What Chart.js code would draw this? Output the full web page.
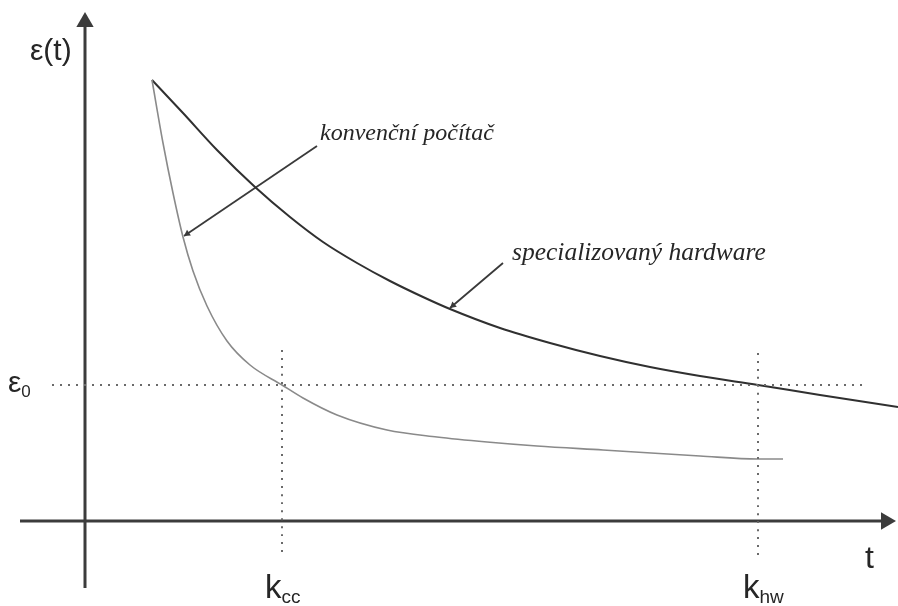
<!DOCTYPE html>
<html>
<head>
<meta charset="utf-8">
<script src="https://cdn.jsdelivr.net/npm/chart.js@4/dist/chart.umd.min.js"></script>
<style>
  html, body { margin: 0; padding: 0; background: #fff; }
  #wrap { width: 898px; height: 606px; }
</style>
</head>
<body>
<div id="wrap"><canvas id="c"></canvas></div>
<script>
// error curves (t, eps)
const hwT   = [0.67, 0.98, 1.32, 1.70, 2.05, 2.38, 2.72, 3.05, 3.38, 3.65, 4.15, 4.65, 5.15, 5.65, 6.15, 6.73, 7.35, 8.13];
const hwEps = [4.41, 4.08, 3.71, 3.34, 3.04, 2.79, 2.58, 2.40, 2.24, 2.12, 1.93, 1.78, 1.65, 1.54, 1.45, 1.36, 1.26, 1.14];

const ccT   = [0.67, 0.78, 0.88, 0.98, 1.08, 1.22, 1.42, 1.65, 1.97, 2.18, 2.52, 3.02, 3.52, 4.02, 4.52, 5.18, 6.15, 6.73, 6.98];
const ccEps = [4.41, 3.78, 3.28, 2.84, 2.50, 2.15, 1.80, 1.56, 1.36, 1.23, 1.06, 0.91, 0.84, 0.79, 0.75, 0.71, 0.65, 0.62, 0.62];

// threshold and crossing times
const eps0 = 1.36;
const kCC = 1.97;
const kHW = 6.73;

// axis extents
const xAxisRange = [-0.65, 8.11];
const yAxisRange = [-0.67, 5.09];

// annotation pointers: [from, to]
const ccPointer = [[2.32, 3.75], [0.99, 2.85]];
const hwPointer = [[4.18, 2.58], [3.65, 2.13]];

// texts: main, subscript, t, eps
const labels = [
  { text: 'ε(t)', sub: '', t: -0.55, e: 4.61, font: '30px "Liberation Sans"', subFont: '' },
  { text: 'ε', sub: '0', t: -0.77, e: 1.29, font: '30px "Liberation Sans"', subFont: '17px "Liberation Sans"' },
  { text: 't', sub: '', t: 7.80, e: -0.47, font: '32px "Liberation Sans"', subFont: '' },
  { text: 'k', sub: 'cc', t: 1.80, e: -0.77, font: '33px "Liberation Sans"', subFont: '19px "Liberation Sans"' },
  { text: 'k', sub: 'hw', t: 6.58, e: -0.77, font: '33px "Liberation Sans"', subFont: '19px "Liberation Sans"' },
  { text: 'konvenční počítač', sub: '', t: 2.35, e: 3.81, font: 'italic 24px "Liberation Serif"', subFont: '' },
  { text: 'specializovaný hardware', sub: '', t: 4.27, e: 2.61, font: 'italic 25.5px "Liberation Serif"', subFont: '' }
];

const pts = (xs, ys) => xs.map((x, i) => ({ x: x, y: ys[i] }));

// arrow head sits on the tip, pulled back by its radius along the pointer
function headAt(from, to, r, pxPerUnit) {
  const dx = to[0] - from[0];
  const dy = to[1] - from[1];
  const len = Math.sqrt(dx * dx + dy * dy);
  const back = r / pxPerUnit;
  // screen angle: y is flipped
  const rot = Math.atan2(-dy, dx) * 180 / Math.PI + 90;
  return { x: to[0] - dx / len * back, y: to[1] - dy / len * back, rot: rot };
}

const PX = 100; // pixels per data unit on both axes
const ccHead = headAt(ccPointer[0], ccPointer[1], 4, PX);
const hwHead = headAt(hwPointer[0], hwPointer[1], 4, PX);

const axisColor = '#3c3c3c';
const dotColor = '#6a6a6a';

function line(data, color, width, dash) {
  return {
    data: data,
    showLine: true,
    borderColor: color,
    borderWidth: width,
    borderDash: dash || [],
    pointRadius: 0,
    cubicInterpolationMode: 'monotone',
    fill: false,
    clip: false
  };
}

function head(p, r) {
  return {
    data: [{ x: p.x, y: p.y }],
    showLine: false,
    pointStyle: 'triangle',
    pointRadius: r,
    rotation: p.rot,
    backgroundColor: axisColor,
    borderColor: axisColor,
    borderWidth: 0,
    clip: false
  };
}

const datasets = [
  // dotted guides
  line([{ x: -0.33, y: eps0 }, { x: 7.83, y: eps0 }], dotColor, 2, [2, 6]),
  line([{ x: kCC, y: 1.71 }, { x: kCC, y: -0.34 }], dotColor, 2, [2, 6]),
  line([{ x: kHW, y: 1.68 }, { x: kHW, y: -0.35 }], dotColor, 2, [2, 6]),
  // axes
  line([{ x: xAxisRange[0], y: 0 }, { x: xAxisRange[1] - 0.1, y: 0 }], axisColor, 3),
  line([{ x: 0, y: yAxisRange[0] }, { x: 0, y: yAxisRange[1] - 0.1 }], axisColor, 3),
  head({ x: xAxisRange[1] - 0.1, y: 0, rot: 90 }, 10),
  head({ x: 0, y: yAxisRange[1] - 0.1, rot: 0 }, 10),
  // curves
  line(pts(ccT, ccEps), '#8a8a8a', 1.6),
  line(pts(hwT, hwEps), '#303030', 2),
  // pointers
  line([{ x: ccPointer[0][0], y: ccPointer[0][1] }, { x: ccPointer[1][0], y: ccPointer[1][1] }], '#3a3a3a', 1.8),
  line([{ x: hwPointer[0][0], y: hwPointer[0][1] }, { x: hwPointer[1][0], y: hwPointer[1][1] }], '#3a3a3a', 1.8),
  head(ccHead, 4),
  head(hwHead, 4)
];

const textPlugin = {
  id: 'texts',
  afterDatasetsDraw(chart) {
    const ctx = chart.ctx;
    const xs = chart.scales.x;
    const ys = chart.scales.y;
    ctx.save();
    ctx.fillStyle = '#262626';
    ctx.textBaseline = 'alphabetic';
    ctx.textAlign = 'left';
    labels.forEach(l => {
      const px = xs.getPixelForValue(l.t);
      const py = ys.getPixelForValue(l.e);
      ctx.font = l.font;
      ctx.fillText(l.text, px, py);
      if (l.sub) {
        const w = ctx.measureText(l.text).width;
        ctx.font = l.subFont;
        ctx.fillText(l.sub, px + w, py + 5);
      }
    });
    ctx.restore();
  }
};

// the 10px arrow heads make Chart.js pad the plot area by 10px on each side,
// so the ranges below keep 100px per unit with the origin where the picture has it
new Chart(document.getElementById('c'), {
  type: 'scatter',
  data: { datasets: datasets },
  options: {
    responsive: true,
    maintainAspectRatio: false,
    animation: false,
    layout: { padding: 0 },
    plugins: {
      legend: { display: false },
      tooltip: { enabled: false },
      title: { display: false }
    },
    scales: {
      x: { type: 'linear', min: -0.75, max: 8.03, display: false },
      y: { type: 'linear', min: -0.75, max: 5.11, display: false }
    }
  },
  plugins: [textPlugin]
});
</script>
</body>
</html>
